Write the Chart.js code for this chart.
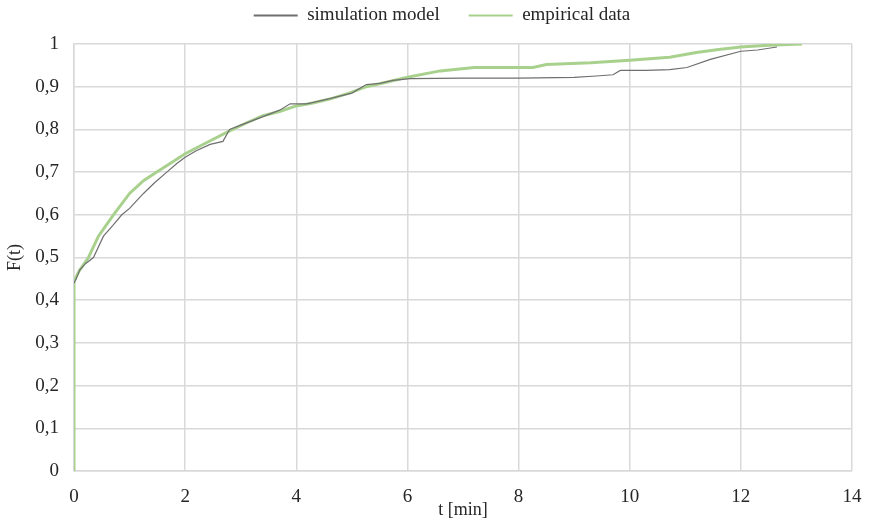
<!DOCTYPE html>
<html>
<head>
<meta charset="utf-8">
<script src="https://cdn.jsdelivr.net/npm/chart.js@4.4.1/dist/chart.umd.min.js"></script>
<style>
    html, body { margin: 0; padding: 0; background: #fff; }
    #wrap { width: 869px; height: 521px; }
</style>
</head>
<body>
<div id="wrap"><canvas id="chart" width="869" height="521"></canvas></div>
<script>
// simulation model - F(t)
const simT = [0, 0.04, 0.1, 0.2, 0.35, 0.53, 0.7, 0.86, 1.0, 1.25, 1.45, 1.67, 1.85, 2.0, 2.2, 2.45, 2.68, 2.8, 3.0, 3.4, 3.7, 3.89, 4.19, 4.6, 5.0, 5.26, 5.5, 5.74, 6.05, 7.0, 8.0, 9.0, 9.4, 9.7, 9.83, 10.3, 10.72, 11.03, 11.45, 12.0, 12.3, 12.65];
const simF = [0.44, 0.45, 0.47, 0.485, 0.5, 0.55, 0.575, 0.6, 0.615, 0.65, 0.675, 0.7, 0.72, 0.735, 0.75, 0.765, 0.772, 0.8, 0.81, 0.83, 0.845, 0.86, 0.86, 0.872, 0.885, 0.905, 0.908, 0.915, 0.919, 0.92, 0.92, 0.922, 0.925, 0.928, 0.938, 0.938, 0.94, 0.945, 0.964, 0.983, 0.986, 0.993];

// empirical data
const empT = [0, 0, 0.1, 0.26, 0.44, 0.71, 1.0, 1.25, 1.49, 1.75, 2.0, 2.4, 2.81, 3.1, 3.4, 3.7, 4.0, 4.3, 4.6, 4.95, 5.26, 5.6, 6.0, 6.59, 7.2, 8.26, 8.5, 9.3, 10.0, 10.72, 11.2, 11.6, 12.0, 12.5, 13.1];
const empF = [0, 0.445, 0.47, 0.5, 0.55, 0.6, 0.65, 0.68, 0.7, 0.722, 0.743, 0.77, 0.797, 0.815, 0.832, 0.842, 0.855, 0.862, 0.871, 0.885, 0.9, 0.91, 0.922, 0.937, 0.945, 0.945, 0.952, 0.956, 0.962, 0.969, 0.98, 0.987, 0.993, 0.997, 1.0];

const xTicks = [0, 2, 4, 6, 8, 10, 12, 14];
const yTicks = [0, 0.1, 0.2, 0.3, 0.4, 0.5, 0.6, 0.7, 0.8, 0.9, 1];

const toPoints = (xs, ys) => xs.map((x, i) => ({ x: x, y: ys[i] }));

const font = "'Liberation Serif', 'Times New Roman', serif";
const textColor = '#262626';
const gridColor = '#d9d9d9';

const simColor = '#6f6f6f';
const empColor = '#a9d18e';

// legend spacing between the two entries is wider than the vertical padding
const legendGap = '\u00a0'.repeat(4);

// extra room under the legend and a small shift to the right, text stays put
const legendTweak = {
    id: 'legendTweak',
    afterInit(chart) {
        const legend = chart.legend;
        if (!legend) return;
        const fit = legend.fit;
        const draw = legend.draw;
        legend.fit = function () {
            fit.call(this);
            this.height += 9;
        };
        legend.draw = function () {
            this.ctx.save();
            this.ctx.translate(12, 0);
            draw.call(this);
            this.ctx.restore();
        };
    }
};

new Chart(document.getElementById('chart'), {
    type: 'line',
    data: {
        datasets: [{
            label: 'simulation model',
            data: toPoints(simT, simF),
            borderColor: simColor,
            backgroundColor: simColor,
            borderWidth: 1.2,
            pointRadius: 0,
            tension: 0
        }, {
            label: 'empirical data',
            data: toPoints(empT, empF),
            borderColor: empColor,
            backgroundColor: empColor,
            borderWidth: 3,
            pointRadius: 0,
            tension: 0
        }]
    },
    plugins: [legendTweak],
    options: {
        responsive: false,
        animation: false,
        layout: { padding: { left: 8, right: 17, top: -4, bottom: 0 } },
        plugins: {
            legend: {
                position: 'top',
                labels: {
                    color: textColor,
                    font: { family: font, size: 19 },
                    boxWidth: 44,
                    boxHeight: 2,
                    padding: 10,
                    generateLabels: (chart) => chart.data.datasets.map((ds, i) => ({
                        text: i === 0 ? ds.label + legendGap : ds.label,
                        fillStyle: ds.borderColor,
                        strokeStyle: ds.borderColor,
                        lineWidth: 0,
                        fontColor: textColor,
                        datasetIndex: i
                    }))
                }
            },
            tooltip: { enabled: false }
        },
        scales: {
            x: {
                type: 'linear',
                min: 0,
                max: 14,
                afterBuildTicks: (scale) => { scale.ticks = xTicks.map(v => ({ value: v })); },
                grid: { color: gridColor, lineWidth: 1.5, drawTicks: false },
                border: { color: gridColor, width: 1.5 },
                ticks: {
                    color: textColor,
                    font: { family: font, size: 19 },
                    padding: 15,
                    maxRotation: 0
                },
                title: {
                    display: true,
                    text: 't [min]',
                    color: textColor,
                    font: { family: font, size: 18 },
                    padding: { top: -8, bottom: 0 }
                },
                afterFit: (scale) => {
                    scale.height = 50;
                    scale.paddingLeft = 0;
                    scale.paddingRight = 0;
                }
            },
            y: {
                min: 0,
                max: 1,
                afterBuildTicks: (scale) => { scale.ticks = yTicks.map(v => ({ value: v })); },
                grid: { color: gridColor, lineWidth: 1.5, drawTicks: false },
                border: { color: gridColor, width: 1.5 },
                ticks: {
                    color: textColor,
                    font: { family: font, size: 19 },
                    padding: 15,
                    callback: (v) => (v === 0 || v === 1) ? String(v) : v.toFixed(1).replace('.', ',')
                },
                title: {
                    display: true,
                    text: 'F(t)',
                    color: textColor,
                    font: { family: font, size: 18 },
                    padding: { top: -4, bottom: 4 }
                },
                afterFit: (scale) => { scale.width = 66; }
            }
        }
    }
});
</script>
</body>
</html>
